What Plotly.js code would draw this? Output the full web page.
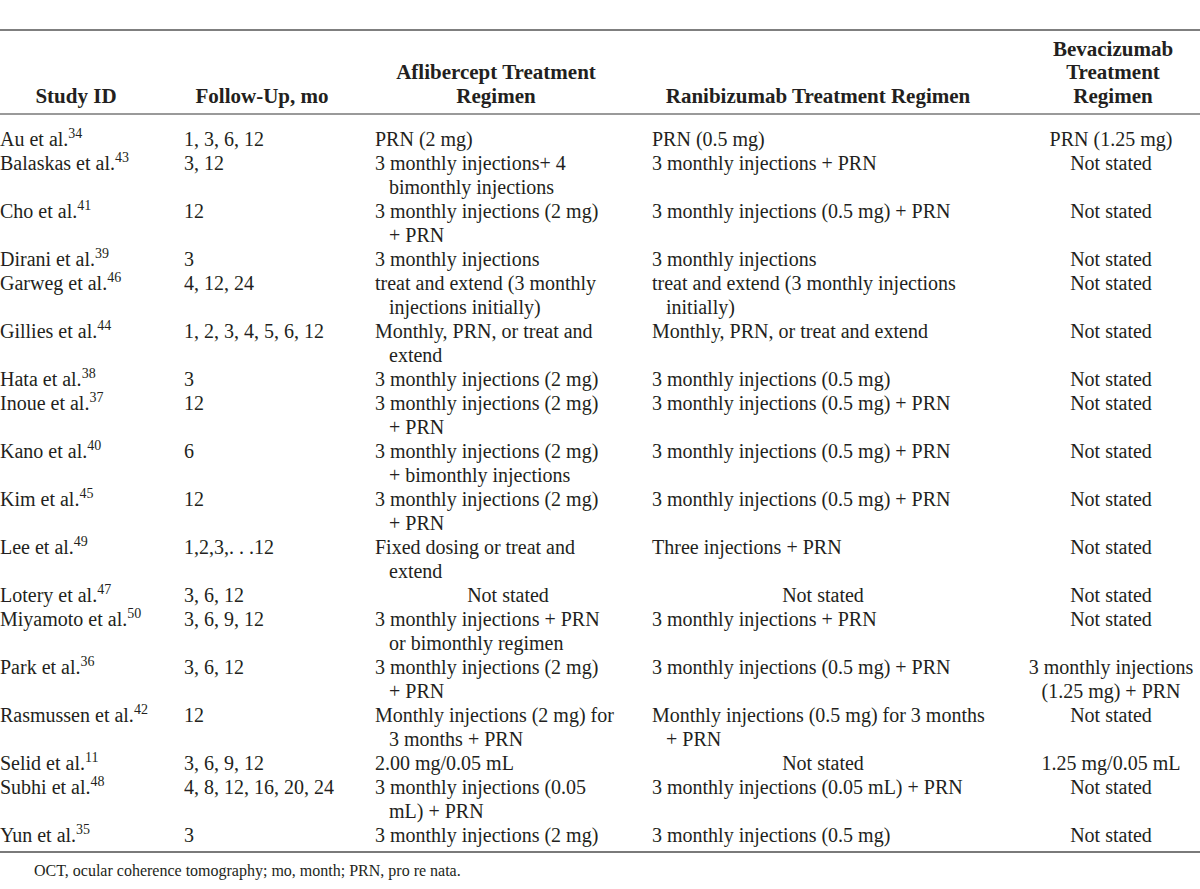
<!DOCTYPE html>
<html><head><meta charset="utf-8">
<script src="https://cdn.plot.ly/plotly-3.0.1.min.js"></script>
<style>html,body{margin:0;padding:0;background:#fff;overflow:hidden}#chart{width:1200px;height:889px}</style>
</head><body><div id="chart"></div>
<script>
// ---------------- data ----------------
const studyNames = ['Au et al.', 'Balaskas et al.', 'Cho et al.', 'Dirani et al.', 'Garweg et al.', 'Gillies et al.', 'Hata et al.', 'Inoue et al.', 'Kano et al.', 'Kim et al.', 'Lee et al.', 'Lotery et al.', 'Miyamoto et al.', 'Park et al.', 'Rasmussen et al.', 'Selid et al.', 'Subhi et al.', 'Yun et al.'];
const refNumbers = ['34', '43', '41', '39', '46', '44', '38', '37', '40', '45', '49', '47', '50', '36', '42', '11', '48', '35'];
const followUp = ['1, 3, 6, 12', '3, 12', '12', '3', '4, 12, 24', '1, 2, 3, 4, 5, 6, 12', '3', '12', '6', '12', '1,2,3,. . .12', '3, 6, 12', '3, 6, 9, 12', '3, 6, 12', '12', '3, 6, 9, 12', '4, 8, 12, 16, 20, 24', '3'];
const aflibercept = [
  'PRN (2 mg)',
  '3 monthly injections+ 4<br>bimonthly injections',
  '3 monthly injections (2 mg)<br>+ PRN',
  '3 monthly injections',
  'treat and extend (3 monthly<br>injections initially)',
  'Monthly, PRN, or treat and<br>extend',
  '3 monthly injections (2 mg)',
  '3 monthly injections (2 mg)<br>+ PRN',
  '3 monthly injections (2 mg)<br>+ bimonthly injections',
  '3 monthly injections (2 mg)<br>+ PRN',
  'Fixed dosing or treat and<br>extend',
  'Not stated',
  '3 monthly injections + PRN<br>or bimonthly regimen',
  '3 monthly injections (2 mg)<br>+ PRN',
  'Monthly injections (2 mg) for<br>3 months + PRN',
  '2.00 mg/0.05 mL',
  '3 monthly injections (0.05<br>mL) + PRN',
  '3 monthly injections (2 mg)'
];
const ranibizumab = [
  'PRN (0.5 mg)',
  '3 monthly injections + PRN',
  '3 monthly injections (0.5 mg) + PRN',
  '3 monthly injections',
  'treat and extend (3 monthly injections<br>initially)',
  'Monthly, PRN, or treat and extend',
  '3 monthly injections (0.5 mg)',
  '3 monthly injections (0.5 mg) + PRN',
  '3 monthly injections (0.5 mg) + PRN',
  '3 monthly injections (0.5 mg) + PRN',
  'Three injections + PRN',
  'Not stated',
  '3 monthly injections + PRN',
  '3 monthly injections (0.5 mg) + PRN',
  'Monthly injections (0.5 mg) for 3 months<br>+ PRN',
  'Not stated',
  '3 monthly injections (0.05 mL) + PRN',
  '3 monthly injections (0.5 mg)'
];
const bevacizumab = [
  'PRN (1.25 mg)', 'Not stated', 'Not stated', 'Not stated', 'Not stated', 'Not stated',
  'Not stated', 'Not stated', 'Not stated', 'Not stated', 'Not stated', 'Not stated',
  'Not stated', '3 monthly injections<br>(1.25 mg) + PRN', 'Not stated', '1.25 mg/0.05 mL',
  'Not stated', 'Not stated'
];
const headers = ['Study ID', 'Follow-Up, mo', 'Aflibercept Treatment<br>Regimen', 'Ranibizumab Treatment Regimen', 'Bevacizumab<br>Treatment<br>Regimen'];
const footnote = 'OCT, ocular coherence tomography; mo, month; PRN, pro re nata.';

// ---------------- layout constants ----------------
const W = 1200, H = 889;
const FS = 20;                 // body font size
const HFS = 21;                // header font size
const FIRST_BASELINE = 146;    // baseline of first body line (px)
const LINE_H = 24;             // body line pitch (px)
const HEAD_BASELINE = 103;     // baseline of last header line (px)
const HEAD_LINE_H = 23.6;
const colLeft = [0, 184, 375, 652, 0];
const colCenter = [76, 262, 508, 823, 1111];
const headCenter = [76, 262, 496, 818, 1113];
const INDENT = '\u2002\u2009';
const TXT = '#231f20';

// y axis in "line" units: line k baseline at FIRST_BASELINE + k*LINE_H
const pointOff = FS * 0.25; // plotly middle text baseline offset
const y0px = FIRST_BASELINE - pointOff;
const yRange = [(H - y0px) / LINE_H, (0 - y0px) / LINE_H];
const pxToLine = (px, fs) => (px - fs * 0.25 - y0px) / LINE_H;  // baseline px -> line units

// ---------------- build line records ----------------
const studyCells = studyNames.map((n, i) => n + '<sup>' + refNumbers[i] + '</sup>');
const columns = [studyCells, followUp, aflibercept, ranibizumab, bevacizumab];
const left = {x: [], y: [], text: []};
const center = {x: [], y: [], text: []};
let line = 0;
for (let i = 0; i < studyNames.length; i++) {
  let n = 1;
  columns.forEach((col, c) => {
    const parts = col[i].split('<br>');
    n = Math.max(n, parts.length);
    const centered = c === 4 || parts[0] === 'Not stated';
    parts.forEach((p, k) => {
      if (centered) {
        center.x.push(colCenter[c]); center.y.push(line + k); center.text.push(p);
      } else {
        left.x.push(colLeft[c]); left.y.push(line + k); left.text.push((k > 0 ? INDENT : '') + p);
      }
    });
  });
  line += n;
}
const head = {x: [], y: [], text: []};
headers.forEach((h, c) => {
  const parts = h.split('<br>');
  parts.forEach((p, j) => {
    const base = HEAD_BASELINE - (parts.length - 1 - j) * HEAD_LINE_H;
    head.x.push(headCenter[c]); head.y.push(pxToLine(base, HFS)); head.text.push(p);
  });
});

const font = {family: 'Liberation Serif, Times New Roman, serif', size: FS, color: TXT};
const traces = [
  Object.assign({type: 'scatter', mode: 'text', textposition: 'middle right', textfont: font, hoverinfo: 'skip', cliponaxis: false, showlegend: false}, left),
  Object.assign({type: 'scatter', mode: 'text', textposition: 'middle center', textfont: font, hoverinfo: 'skip', cliponaxis: false, showlegend: false}, center),
  Object.assign({type: 'scatter', mode: 'text', textposition: 'middle center', textfont: Object.assign({}, font, {size: HFS, weight: 'bold'}), hoverinfo: 'skip', cliponaxis: false, showlegend: false}, head)
];

const rules = [
  {py: 30, color: '#555555', width: 1.5},
  {py: 114, color: '#9a9a9a', width: 2},
  {py: 852, color: '#7a7a7a', width: 2}
];
const shapes = rules.map(r => ({type: 'line', xref: 'paper', yref: 'paper', x0: 0, x1: 1, y0: 1 - r.py / H, y1: 1 - r.py / H, line: {color: r.color, width: r.width}}));

const layout = {
  width: W, height: H,
  margin: {l: 0, r: 0, t: 0, b: 0},
  paper_bgcolor: '#fff', plot_bgcolor: '#fff',
  xaxis: {range: [0, W], visible: false, fixedrange: true},
  yaxis: {range: yRange, visible: false, fixedrange: true},
  shapes: shapes,
  annotations: [{text: footnote, xref: 'paper', yref: 'paper', x: 32 / W, y: 1 - 871 / H, xanchor: 'left', yanchor: 'middle', showarrow: false, font: {family: 'Liberation Serif, Times New Roman, serif', size: 16, color: TXT}}],
  showlegend: false
};
Plotly.newPlot('chart', traces, layout, {staticPlot: true, displayModeBar: false});
</script>
</body></html>
